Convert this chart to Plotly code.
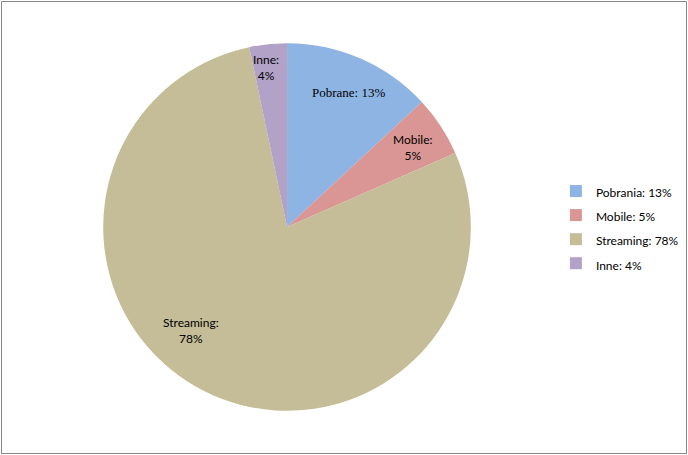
import plotly.graph_objects as go

# dane wykresu
legend_labels = ['Pobrania: 13%', 'Mobile: 5%', 'Streaming: 78%', 'Inne: 4%']
inner_labels = ['Pobrane: 13%', 'Mobile:<br>5%', 'Streaming:<br>78%', 'Inne:<br>4%']
values = [13.1, 5.3, 78.3, 3.3]
colors = ['#8EB4E3', '#D99694', '#C4BD97', '#B3A2C7']

# pozycje etykiet (paper)
label_x = [0.506, 0.600, 0.278, 0.387]
label_y = [0.797, 0.675, 0.274, 0.851]
label_fonts = ['Liberation Serif', 'Lato', 'Lato', 'Lato']

W, H = 688, 455

fig = go.Figure()

# mniejszy tekst w spanie, większy font legendy daje większy odstęp wierszy
legend_text = ['<span style="font-size:12px">%s</span>' % s for s in legend_labels]

fig.add_trace(
    go.Pie(
        labels=legend_text,
        values=values,
        sort=False,
        direction='clockwise',
        rotation=0,
        marker=dict(colors=colors, line=dict(width=0)),
        textinfo='none',
        hoverinfo='label',
        domain=dict(x=[0.1497, 0.6847], y=[0.097, 0.905]),
    )
)

for txt, x, y, fnt in zip(inner_labels, label_x, label_y, label_fonts):
    fig.add_annotation(
        x=x, y=y, xref='paper', yref='paper',
        xanchor='center', yanchor='middle',
        text=txt, showarrow=False,
        font=dict(family=fnt, size=12 if fnt == 'Lato' else 13, color='black'),
        align='center',
    )

# ramka
fig.add_shape(
    type='rect', xref='paper', yref='paper',
    x0=1.5 / W, y0=1.5 / H, x1=(W - 1.5) / W, y1=(H - 1.5) / H,
    line=dict(color='#878787', width=1),
)

fig.update_layout(
    width=W,
    height=H,
    margin=dict(l=0, r=0, t=0, b=0),
    paper_bgcolor='white',
    plot_bgcolor='white',
    showlegend=True,
    legend=dict(
        x=0.808, y=0.5, xanchor='left', yanchor='middle',
        font=dict(family='Lato', size=16.2, color='black'),
        itemsizing='constant',
    ),
)

fig.write_html("out.html", config={'displayModeBar': False},
               post_script="document.body.style.margin='0';")
